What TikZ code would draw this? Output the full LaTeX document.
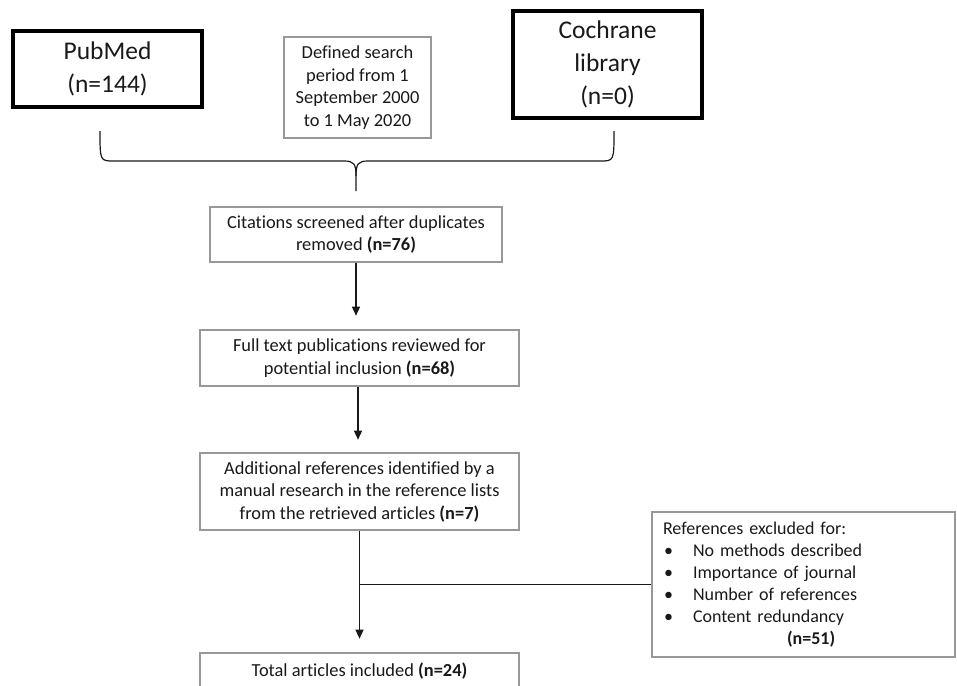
\documentclass[tikz,border=0pt]{standalone}
\usepackage{fontspec}
\setmainfont{Carlito}[Ligatures={NoCommon,NoContextual}]
\usetikzlibrary{arrows.meta}
\definecolor{boxgray}{RGB}{152,152,152}
\definecolor{ink}{RGB}{25,25,25}
\begin{document}
\begin{tikzpicture}[x=1pt,y=-1pt,
  srcbox/.style={draw=black, line width=3.5pt, inner sep=0pt, align=center, text=ink,
     font=\fontsize{25.5}{33}\selectfont},
  graybox/.style={draw=boxgray, line width=2.6pt, inner sep=0pt, align=center, text=ink,
     font=\fontsize{18.4}{22.5}\selectfont},
  conn/.style={draw=ink, line width=1.2pt},
  arr/.style={conn, -{Triangle[length=9pt,width=8pt]}}
]
\useasboundingbox (0,0) rectangle (957,685);
\clip (0,0) rectangle (957,685);

% source boxes
\node[srcbox, minimum width=189pt, minimum height=76pt] (pub) at (107.5,69) {PubMed\\(n=144)};
\node[graybox, minimum width=147pt, minimum height=101pt] (def) at (357.5,87.5) {Defined search\\period from 1\\September 2000\\to 1 May 2020};
\node[srcbox, minimum width=189pt, minimum height=107pt] (coch) at (607.5,64.5) {Cochrane\\library\\(n=0)};

% brace
\coordinate (bl) at (100,131);
\coordinate (br) at (614,131);
\coordinate (bt) at (356,191);
\draw[conn] (bl) .. controls (100,161) and (100,161) .. (114,161) -- (344,161)
   .. controls (354,161) and (356,164) .. (356,176) -- (bt);
\draw[conn] (br) .. controls (614,161) and (614,161) .. (600,161) -- (368,161)
   .. controls (358,161) and (356,164) .. (356,176);

% main flow
\node[graybox, minimum width=292pt, minimum height=55pt] (cit) at (356,234.5) {Citations screened after duplicates\\removed \textbf{(n=76)}};
\node[graybox, minimum width=319pt, minimum height=56pt] (full) at (359.5,358) {Full text publications reviewed for\\potential inclusion \textbf{(n=68)}};
\node[graybox, minimum width=319pt, minimum height=77pt] (add) at (359.5,491.5) {Additional references identified by a\\manual research in the reference lists\\from the retrieved articles \textbf{(n=7)}};
\node[graybox, minimum width=319pt, minimum height=36pt] (tot) at (359.5,671) {Total articles included \textbf{(n=24)}};

\node[graybox, minimum width=303pt, minimum height=145pt, align=left, text width=281pt, inner xsep=11pt, font=\fontsize{18}{22}\selectfont] (exc) at (803.5,584.5)
 {References excluded for:\\
  \hspace*{1pt}\makebox[29pt][l]{•}No methods described\\
  \hspace*{1pt}\makebox[29pt][l]{•}Importance of journal\\
  \hspace*{1pt}\makebox[29pt][l]{•}Number of references\\
  \hspace*{1pt}\makebox[29pt][l]{•}Content redundancy\\
  \hspace*{124pt}\textbf{(n=51)}};

% connectors
\draw[arr, shorten >=13pt] (cit.south) -- (cit.south |- full.north);
\draw[arr, shorten >=12pt] ([xshift=-1.5pt]full.south) -- ([xshift=-1.5pt]full.south |- add.north);
\draw[arr, shorten >=13pt] (add.south) -- (add.south |- tot.north);
\coordinate (brn) at (add.south |- exc.west);
\draw[conn] (brn) -- (exc.west);
\end{tikzpicture}
\end{document}
